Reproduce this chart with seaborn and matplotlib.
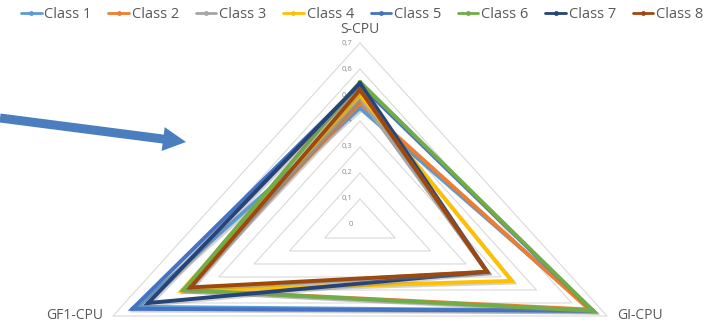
import numpy as np
import pandas as pd
import seaborn as sns
import matplotlib
matplotlib.use("Agg")
import matplotlib.pyplot as plt
from matplotlib.lines import Line2D
from matplotlib.patches import FancyArrow
from matplotlib.transforms import IdentityTransform
import matplotlib.patheffects as pe

# Radar axes (clockwise from the top) and the value of each class on them
axis_labels = ["S-CPU", "GI-CPU", "GF1-CPU"]
classes = ["Class 1", "Class 2", "Class 3", "Class 4",
           "Class 5", "Class 6", "Class 7", "Class 8"]
class_1 = [0.45, 0.66, 0.63]
class_2 = [0.47, 0.65, 0.50]
class_3 = [0.49, 0.36, 0.49]
class_4 = [0.50, 0.43, 0.505]
class_5 = [0.54, 0.66, 0.645]
class_6 = [0.55, 0.66, 0.50]
class_7 = [0.545, 0.36, 0.60]
class_8 = [0.52, 0.36, 0.48]
series = [class_1, class_2, class_3, class_4, class_5, class_6, class_7, class_8]

grid_levels = [0.1, 0.2, 0.3, 0.4, 0.5, 0.6, 0.7]
tick_labels = ["0", "0,1", "0,2", "0,3", "0,4", "0,5", "0,6", "0,7"]

colors = ["#5B9BD5", "#ED7D31", "#A5A5A5", "#FFC000",
          "#4472C4", "#70AD47", "#264478", "#9E480E"]

sns.set_theme(style="white")
plt.rcParams["font.family"] = ["Open Sans", "DejaVu Sans"]

angles = np.deg2rad([0, 120, 240])


def to_xy(values):
    v = np.asarray(values, dtype=float)
    return v * np.sin(angles), v * np.cos(angles)


# long-form table, each polygon closed by repeating its first vertex
rows = []
for name, vals in zip(classes, series):
    xs, ys = to_xy(vals)
    for i in list(range(len(axis_labels))) + [0]:
        rows.append({"Class": name, "x": xs[i], "y": ys[i]})
df = pd.DataFrame(rows)

fig = plt.figure(figsize=(7.13, 3.24), dpi=100)
ax = fig.add_axes([0, 0, 1, 1])
ax.set_xlim(-0.8834, 0.8663)
ax.set_ylim(-0.3808, 0.8654)
ax.axis("off")

# triangular grid
for lvl in grid_levels:
    gx, gy = to_xy([lvl] * 3)
    ax.plot(np.append(gx, gx[0]), np.append(gy, gy[0]),
            color="#D9D9D9", lw=0.8, zorder=1)

sns.lineplot(data=df, x="x", y="y", hue="Class", hue_order=classes,
             palette=colors, sort=False, estimator=None, legend=False,
             lw=2.8, marker="o", markersize=3, markeredgewidth=0,
             ax=ax, zorder=3)

shadow = [pe.SimpleLineShadow(offset=(1.2, -1.2), shadow_color="#7f7f7f",
                              alpha=0.35), pe.Normal()]
for ln in ax.lines[len(grid_levels):]:
    ln.set_path_effects(shadow)
    ln.set_solid_joinstyle("miter")

# value labels along the vertical axis
for lvl, lab in zip([0.0] + grid_levels, tick_labels):
    ax.text(-0.018, lvl, lab, ha="right", va="center",
            fontsize=5.5, color="#8C8C8C", zorder=2)

# category labels at the outer vertices
outer_x, outer_y = to_xy([0.7] * 3)
label_style = dict(fontsize=10, color="#595959", textcoords="offset points")
ax.annotate(axis_labels[0], (outer_x[0], outer_y[0]), xytext=(0, 4),
            ha="center", va="bottom", **label_style)
ax.annotate(axis_labels[1], (outer_x[1], outer_y[1]), xytext=(7, 0),
            ha="left", va="center", **label_style)
ax.annotate(axis_labels[2], (outer_x[2], outer_y[2]), xytext=(-7, 0),
            ha="right", va="center", **label_style)

# legend row across the top
handles = [Line2D([0], [0], color=c, lw=2.0, marker="o", markersize=3.5,
                  markeredgewidth=0) for c in colors]
fig.legend(handles, classes, loc="center", bbox_to_anchor=(0.508, 0.955),
           ncol=8, frameon=False, fontsize=10.5, handlelength=1.4,
           handletextpad=0.2, columnspacing=1.15, labelcolor="#595959")

# pointer arrow on the left
fig.add_artist(FancyArrow(0, 206, 186, -24, width=9, head_width=24,
                          head_length=23, length_includes_head=True,
                          transform=IdentityTransform(), color="#4A7EBF",
                          lw=0, zorder=5))

fig.savefig("out.png", dpi=100)
